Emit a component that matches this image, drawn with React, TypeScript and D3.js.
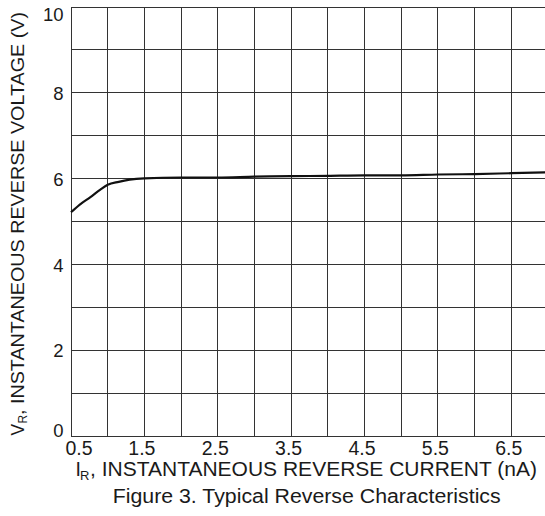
import React from "react";
import * as d3 from "d3";

const currentNA = [0.5, 0.62, 0.76, 0.9, 1.0, 1.15, 1.3, 1.5, 2.0, 2.5, 3.0, 3.5, 4.0, 4.5, 5.0, 5.5, 6.0, 6.5, 7.0];
const voltageV = [5.22, 5.4, 5.57, 5.75, 5.86, 5.93, 5.98, 6.01, 6.03, 6.03, 6.05, 6.06, 6.07, 6.08, 6.08, 6.1, 6.11, 6.13, 6.15];
const xTickValues = [0.5, 1.5, 2.5, 3.5, 4.5, 5.5, 6.5];
const yTickValues = [0, 2, 4, 6, 8, 10];

const W = 545;
const H = 516;
const left = 71;
const right = 548;
const top = 7;
const bottom = 436.5;

export default function App() {
  const x = d3.scaleLinear().domain([0.5, 7]).range([left, right]);
  const y = d3.scaleLinear().domain([0, 10]).range([bottom, top]);
  const vGrid = d3.range(0.5, 7.001, 0.5);
  const hGrid = d3.range(0, 10.001, 1);
  const line = d3
    .line<number>()
    .x((_, i) => x(currentNA[i]))
    .y((d) => y(d))
    .curve(d3.curveMonotoneX);
  const font = "'Liberation Sans', Arial, sans-serif";
  const fill = "#1a1a1a";
  return (
    <div style={{ position: "absolute", left: 0, top: 0 }}>
      <svg width={W} height={H} style={{ display: "block", background: "#fff" }} fontFamily={font}>
        <g stroke="#333" strokeWidth={1} shapeRendering="crispEdges">
          {vGrid.map((v) => (
            <line key={"v" + v} x1={x(v)} x2={x(v)} y1={top} y2={bottom} />
          ))}
          {hGrid.map((v) => (
            <line key={"h" + v} x1={left} x2={right} y1={y(v)} y2={y(v)} />
          ))}
        </g>
        <path d={line(voltageV) || ""} fill="none" stroke="#111" strokeWidth={2.2} />
        {yTickValues.map((v) => {
          const base = v === 10 ? 20.5 : v === 0 ? 436.5 : y(v) + 6.8;
          return (
            <text key={"yt" + v} x={63.5} y={base} textAnchor="end" fontSize={18.5} fill={fill}>
              {v}
            </text>
          );
        })}
        {xTickValues.map((v, i) => (
          <text key={"xt" + v} x={i === 0 ? 79 : x(v) - 2.5} y={455} textAnchor="middle" fontSize={19.5} fill={fill}>
            {v.toFixed(1)}
          </text>
        ))}
        <text x={75.5} y={476} fontSize={19.5} fill={fill}>I</text>
        <text x={80} y={480} fontSize={13} fill={fill}>R</text>
        <text x={90} y={476} fontSize={19.5} fill={fill} textLength={447} lengthAdjust="spacingAndGlyphs">
          , INSTANTANEOUS REVERSE CURRENT (nA)
        </text>
        <text x={112.7} y={503} fontSize={19.5} fill={fill} textLength={388} lengthAdjust="spacingAndGlyphs">
          Figure 3. Typical Reverse Characteristics
        </text>
        <g transform="rotate(-90)">
          <text x={-435.5} y={23.8} fontSize={17.5} fill={fill}>V</text>
          <text x={-423.5} y={27} fontSize={12} fill={fill}>R</text>
          <text x={-415} y={23.8} fontSize={18.5} fill={fill} textLength={403} lengthAdjust="spacingAndGlyphs">
            , INSTANTANEOUS REVERSE VOLTAGE (V)
          </text>
        </g>
      </svg>
    </div>
  );
}
